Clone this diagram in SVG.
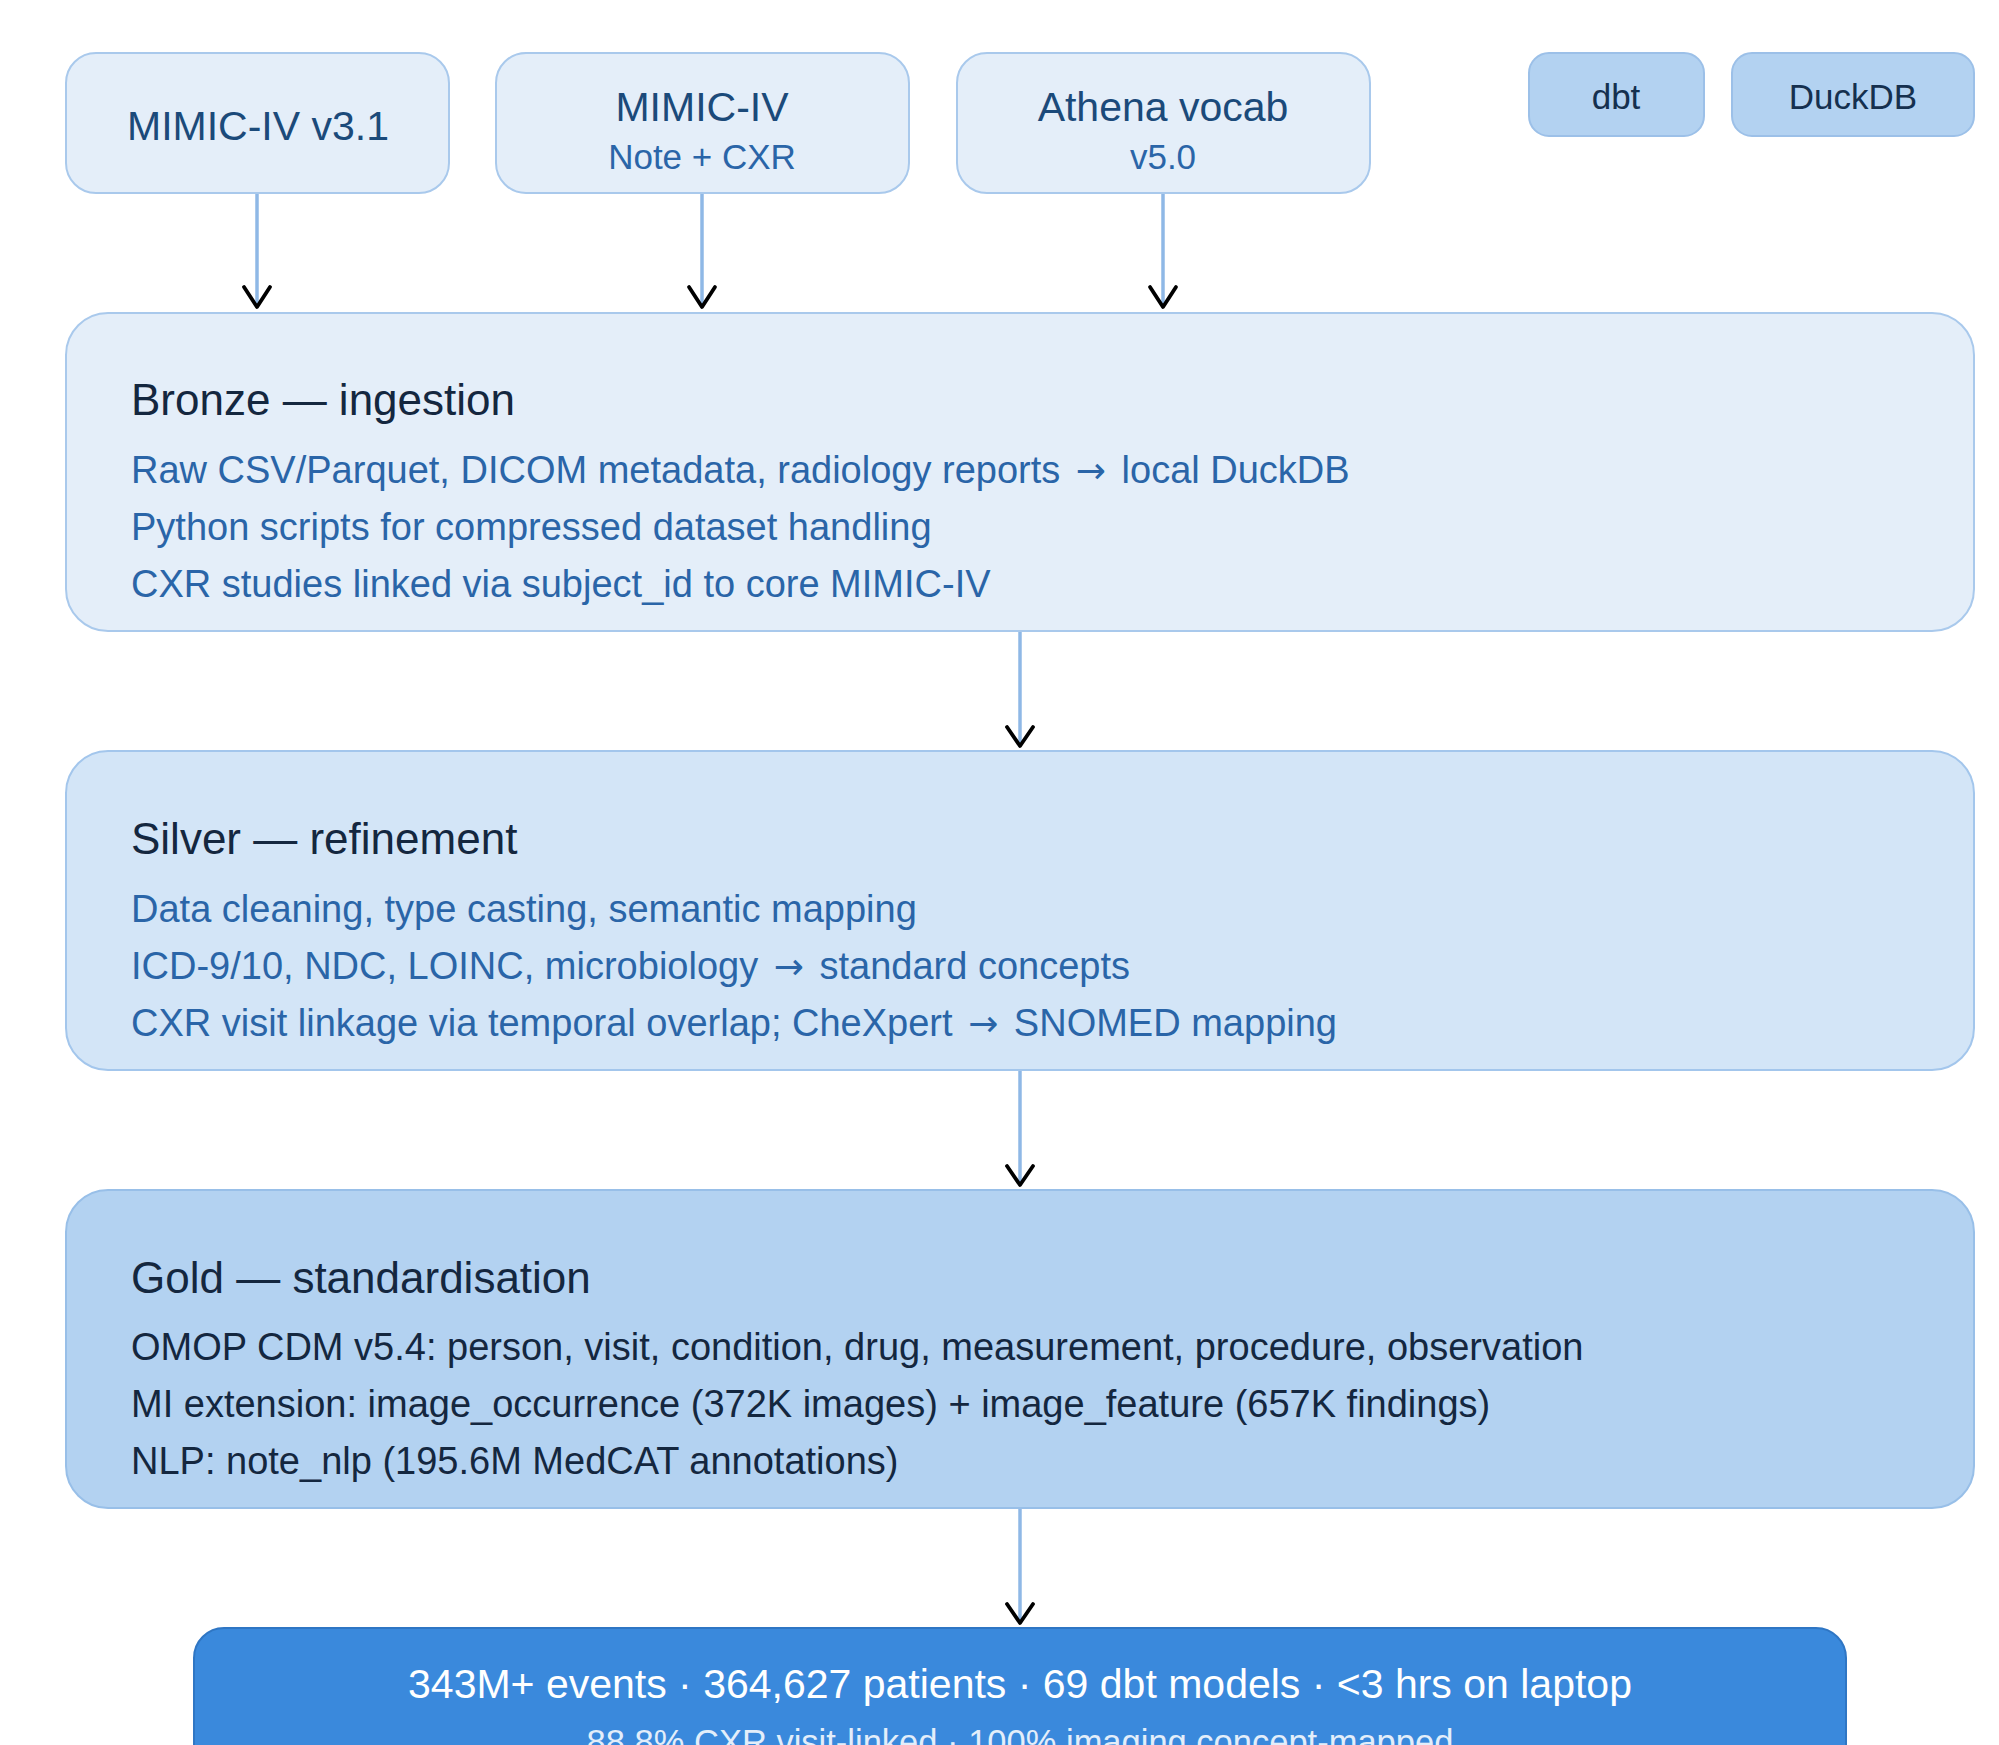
<svg xmlns="http://www.w3.org/2000/svg" width="1999" height="1745" viewBox="0 0 1999 1745">
<style>
text{font-family:"Liberation Sans",Arial,Helvetica,sans-serif}
.src{fill:#e4eef9;stroke:#a9c9ec;stroke-width:2}
.tool{fill:#b3d2f1;stroke:#9cc0e8;stroke-width:2}
.bronze{fill:#e4eef9;stroke:#a9c9ec;stroke-width:2}
.silver{fill:#d3e5f7;stroke:#a3c6ec;stroke-width:2}
.gold{fill:#b3d2f1;stroke:#98bfe8;stroke-width:2}
.out{fill:#3a89dc;stroke:#2f76c4;stroke-width:2}
.st{font-size:41px;fill:#1b4a7a;text-anchor:middle}
.ss{font-size:35px;fill:#2a65a8;text-anchor:middle}
.tt{font-size:35px;fill:#15304f;text-anchor:middle}
.h{font-size:44px;fill:#14273f}
.b{font-size:38px;fill:#2a65a8}
.bd{font-size:38px;fill:#14273f}
.ar{font-family:"DejaVu Sans",sans-serif;font-size:36px}
.o1{font-size:41px;fill:#ffffff;text-anchor:middle}
.o2{font-size:34.5px;fill:#e3eefa;text-anchor:middle}
.ln{stroke:#8fb8e6;stroke-width:3.5;fill:none}
.hd{stroke:#000;stroke-width:3.8;fill:none;stroke-linecap:round;stroke-linejoin:round}
</style>
<rect width="1999" height="1745" fill="#ffffff"/>
<g id="connectors">
<line class="ln" x1="257" y1="194" x2="257" y2="306"/>
<polyline class="hd" points="244,287 257,307 270,287"/>
<line class="ln" x1="702" y1="194" x2="702" y2="306"/>
<polyline class="hd" points="689,287 702,307 715,287"/>
<line class="ln" x1="1163" y1="194" x2="1163" y2="306"/>
<polyline class="hd" points="1150,287 1163,307 1176,287"/>
<line class="ln" x1="1020" y1="632" x2="1020" y2="745"/>
<polyline class="hd" points="1007,727 1020,746 1033,727"/>
<line class="ln" x1="1020" y1="1071" x2="1020" y2="1184"/>
<polyline class="hd" points="1007,1166 1020,1185 1033,1166"/>
<line class="ln" x1="1020" y1="1509" x2="1020" y2="1622"/>
<polyline class="hd" points="1007,1604 1020,1623 1033,1604"/>
</g>
<g id="mimic">
<rect class="src" x="66" y="53" width="383" height="140" rx="30"/>
<text class="st" x="258" y="140">MIMIC-IV v3.1</text>
</g>
<g id="mimic-note-cxr">
<rect class="src" x="496" y="53" width="413" height="140" rx="30"/>
<text class="st" x="702" y="121">MIMIC-IV</text>
<text class="ss" x="702" y="169">Note + CXR</text>
</g>
<g id="athena">
<rect class="src" x="957" y="53" width="413" height="140" rx="30"/>
<text class="st" x="1163" y="121">Athena vocab</text>
<text class="ss" x="1163" y="169">v5.0</text>
</g>
<g id="dbt">
<rect class="tool" x="1529" y="53" width="175" height="83" rx="20"/>
<text class="tt" x="1616" y="109">dbt</text>
</g>
<g id="duckdb">
<rect class="tool" x="1732" y="53" width="242" height="83" rx="20"/>
<text class="tt" x="1853" y="109">DuckDB</text>
</g>
<g id="bronze">
<rect class="bronze" x="66" y="313" width="1908" height="318" rx="42"/>
<text class="h" x="131" y="415">Bronze — ingestion</text>
<text class="b" x="131" y="483">Raw CSV/Parquet, DICOM metadata, radiology reports <tspan class="ar" dx="5">→</tspan><tspan dx="5"> local DuckDB</tspan></text>
<text class="b" x="131" y="540">Python scripts for compressed dataset handling</text>
<text class="b" x="131" y="597">CXR studies linked via subject_id to core MIMIC-IV</text>
</g>
<g id="silver">
<rect class="silver" x="66" y="751" width="1908" height="319" rx="42"/>
<text class="h" x="131" y="854">Silver — refinement</text>
<text class="b" x="131" y="922">Data cleaning, type casting, semantic mapping</text>
<text class="b" x="131" y="979">ICD-9/10, NDC, LOINC, microbiology <tspan class="ar" dx="5">→</tspan><tspan dx="5"> standard concepts</tspan></text>
<text class="b" x="131" y="1036">CXR visit linkage via temporal overlap; CheXpert <tspan class="ar" dx="5">→</tspan><tspan dx="5"> SNOMED mapping</tspan></text>
</g>
<g id="gold">
<rect class="gold" x="66" y="1190" width="1908" height="318" rx="42"/>
<text class="h" x="131" y="1293">Gold — standardisation</text>
<text class="bd" x="131" y="1360">OMOP CDM v5.4: person, visit, condition, drug, measurement, procedure, observation</text>
<text class="bd" x="131" y="1417">MI extension: image_occurrence (372K images) + image_feature (657K findings)</text>
<text class="bd" x="131" y="1474">NLP: note_nlp (195.6M MedCAT annotations)</text>
</g>
<g id="output">
<rect class="out" x="194" y="1628" width="1652" height="180" rx="30"/>
<text class="o1" x="1020" y="1698">343M+ events · 364,627 patients · 69 dbt models · &lt;3 hrs on laptop</text>
<text class="o2" x="1020" y="1754">88.8% CXR visit-linked · 100% imaging concept-mapped</text>
</g>
</svg>
